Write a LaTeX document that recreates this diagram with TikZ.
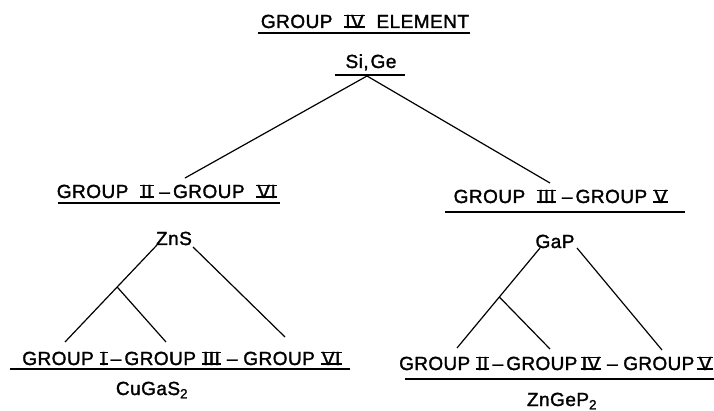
\documentclass[tikz,border=0pt]{standalone}
\usepackage{fontspec}
\setmainfont{Liberation Sans}[FakeBold=1.6]
\usetikzlibrary{calc}
% Roman numeral with a bar above and below, as in lettering-guide script
\newcommand\rnum[1]{\setbox0=\hbox{\kern0.07em#1\kern0.07em}\leavevmode
  \rlap{\rule[-0.02em]{\wd0}{0.1em}}%
  \rlap{\rule[\dimexpr\ht0-0.08em\relax]{\wd0}{0.1em}}\box0}
\newcommand\gap{\hspace{0.3em}}
\tikzset{
  lab/.style={font=\fontsize{19}{22}\selectfont\addfontfeatures{LetterSpace=2.5}, inner sep=0pt, anchor=base},
  tight/.style={font=\fontsize{19}{22}\selectfont\addfontfeatures{LetterSpace=1.8}},
  bar/.style={line width=1.4pt},
  link/.style={line width=1.2pt},
}
\begin{document}
\begin{tikzpicture}[x=1pt,y=-1pt]
\useasboundingbox (0,0) rectangle (714,411);

% group labels and compounds
\node[lab] (top)  at (365,28)  {GROUP\gap\ \rnum{IV}\gap\ ELEMENT};
\node[lab] (sige) at (371,68)  {Si,\kern0.1em Ge};
\node[lab] (ml)   at (167,198) {GROUP\gap\ \rnum{II}\ --\,GROUP\gap\ \rnum{VI}};
\node[lab] (zns)  at (174,245) {ZnS};
\node[lab] (mr)   at (561,203) {GROUP\gap\ \rnum{III}\ --\,GROUP\ \rnum{V}};
\node[lab] (gap)  at (555,248) {GaP};
\node[lab] (bl)   at (182,365) {GROUP\ \rnum{I}\,--\,GROUP\ \rnum{III}\ --\ GROUP\ \rnum{VI}};
\node[lab] (cu)   at (152,395) {CuGaS\textsubscript{2}};
\node[lab,tight] (br) at (556,370) {GROUP\ \rnum{II}\,--\,GROUP\,\rnum{IV}\ --\ GROUP\,\rnum{V}};
\node[lab] (zn)   at (562,406) {ZnGeP\textsubscript{2}};

% underlines
\draw[bar] (258,33) -- (470,33);
\draw[bar] (335,75) -- (405,75);
\draw[bar] (58,203) -- (280,203);
\draw[bar] (445,212) -- (685,212);
\draw[bar] (10,369) -- (350,369);
\draw[bar] (405,379) -- (714,379);

% branch points
\coordinate (apex) at (367,76);
\coordinate (mltip) at (185,178);
\coordinate (mrtip) at (550,183);
\coordinate (zl) at (157,245);
\coordinate (zr) at (193,247);
\coordinate (b1) at (65,342);
\coordinate (b2) at (166,342);
\coordinate (b3) at (285,337);
\coordinate (jl) at ($(zl)!0.433!(b1)$);
\coordinate (gl) at (540,248);
\coordinate (gr) at (577,248);
\coordinate (c1) at (457,348);
\coordinate (c2) at (550,349);
\coordinate (c3) at (662,350);
\coordinate (jr) at ($(gl)!0.49!(c1)$);

% tree connectors
\draw[link] (apex) -- (mltip);
\draw[link] (apex) -- (mrtip);
\draw[link] (zl) -- (b1);
\draw[link] (jl) -- (b2);
\draw[link] (zr) -- (b3);
\draw[link] (gl) -- (c1);
\draw[link] (jr) -- (c2);
\draw[link] (gr) -- (c3);
\end{tikzpicture}
\end{document}
